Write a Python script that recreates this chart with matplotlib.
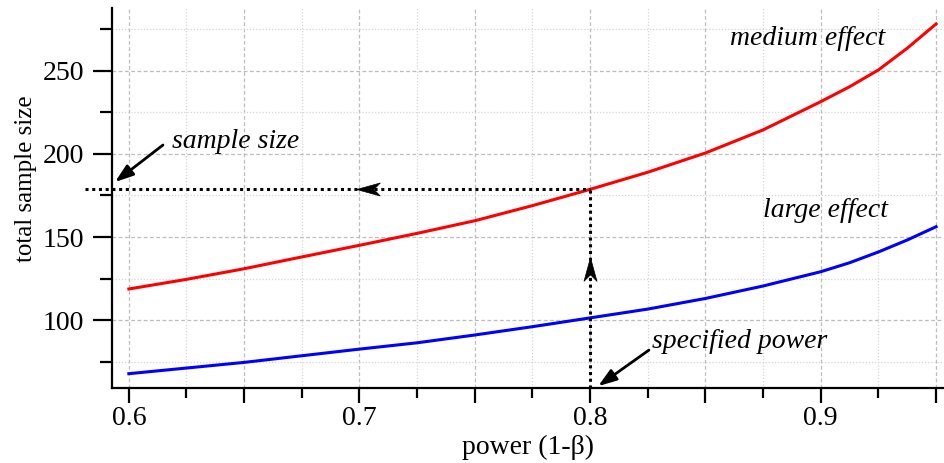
import matplotlib
matplotlib.use("Agg")
import matplotlib.pyplot as plt
from matplotlib.ticker import FixedLocator, FuncFormatter, MultipleLocator
from matplotlib.path import Path

power = [0.6, 0.625, 0.65, 0.675, 0.7, 0.725, 0.75, 0.775, 0.8, 0.825, 0.85, 0.875,
         0.9, 0.9125, 0.925, 0.9375, 0.95]
medium_effect = [118.7, 124.5, 130.9, 138.0, 145.0, 152.2, 159.8, 168.9, 178.7, 189.0, 200.6, 214.5,
                 231.5, 240.5, 250.6, 263.7, 278.3]
large_effect = [67.7, 71.1, 74.5, 78.5, 82.5, 86.3, 91.0, 96.0, 101.3, 106.6, 113.0, 120.5,
                129.1, 134.5, 141.0, 148.2, 156.2]
x_major = [0.6, 0.65, 0.7, 0.75, 0.8, 0.85, 0.9, 0.95]
x_labels = {0.6: "0.6", 0.7: "0.7", 0.8: "0.8", 0.9: "0.9"}
specified_power = 0.8
sample_size = 179

serif = ["Liberation Serif", "DejaVu Serif"]
plt.rcParams["font.family"] = serif

fig = plt.figure(figsize=(9.44, 4.63), dpi=100)
ax = fig.add_axes([112 / 944, 1 - 388.3 / 463, (943 - 112) / 944, (388.3 - 8) / 463])

ax.plot(power, medium_effect, color="#ff0000", lw=2.2, zorder=3)
ax.plot(power, large_effect, color="#0000ff", lw=2.2, zorder=3)

ymin, ymax = 58.9, 287.9
ax.set_xlim(0.5927, 0.9530)
ax.set_ylim(ymin, ymax)

for s in ["top", "right"]:
    ax.spines[s].set_visible(False)
for s in ["left", "bottom"]:
    ax.spines[s].set_linewidth(1.6)

ax.xaxis.set_major_locator(FixedLocator(x_major))
ax.xaxis.set_major_formatter(FuncFormatter(lambda v, p: x_labels.get(round(v, 3), "")))
ax.xaxis.set_minor_locator(FixedLocator([v + 0.025 for v in x_major[:-1]]))
ax.yaxis.set_major_locator(MultipleLocator(50))
ax.yaxis.set_minor_locator(MultipleLocator(25))

ax.tick_params(axis="both", which="major", direction="out", width=1.6, labelsize=20)
ax.tick_params(axis="x", which="major", length=11, pad=1.5)
ax.tick_params(axis="y", which="major", length=14, pad=6)
ax.tick_params(axis="x", which="minor", direction="out", length=7, width=1.6)
ax.tick_params(axis="y", which="minor", direction="out", length=9, width=1.6)

ax.grid(True, which="major", color="#bdbdbd", linestyle=(0, (3, 2)), lw=0.9)
ax.grid(True, which="minor", color="#d6d6d6", linestyle=(0, (1, 1.5)), lw=0.9)
ax.set_axisbelow(True)

ax.set_xlabel("power (1-β)", fontsize=20, labelpad=3)
ax.set_ylabel("total sample size", fontsize=18)
ax.yaxis.set_label_coords(-0.090, 0.5517)

# dotted guide lines
ax.plot([0.581, specified_power], [sample_size, sample_size], color="black", lw=2.2,
        linestyle=(0, (1, 1.2)), clip_on=False, zorder=4)
ax.plot([specified_power, specified_power], [ymin, sample_size], color="black", lw=2.2,
        linestyle=(0, (1, 1.2)), clip_on=False, zorder=4)

# stealth-shaped arrowheads on the guide lines
def stealth(direction):
    base = [(-1.0, 0.0), (1.0, 0.55), (0.45, 0.0), (1.0, -0.55), (-1.0, 0.0)]
    if direction == "up":
        base = [(-y, -x) for x, y in base]
    return Path(base, [Path.MOVETO, Path.LINETO, Path.LINETO, Path.LINETO, Path.CLOSEPOLY])

ax.plot([0.7039], [sample_size], marker=stealth("left"), markersize=17, color="black",
        markeredgewidth=0.5, linestyle="none", zorder=5)
ax.plot([specified_power], [130.7], marker=stealth("up"), markersize=17, color="black",
        markeredgewidth=0.5, linestyle="none", zorder=5)

# text annotations with arrows
aprops = dict(arrowstyle="-|>,head_length=1.1,head_width=0.38", color="black", lw=2,
              shrinkA=0, shrinkB=0)
ax.annotate("", xy=(0.594, 183.1), xytext=(0.6148, 205.4), arrowprops=aprops,
            annotation_clip=False)
ax.annotate("", xy=(0.8035, 60.2), xytext=(0.8255, 81.9), arrowprops=aprops,
            annotation_clip=False)

ax.text(0.6187, 203.6, "sample size", fontsize=20, style="italic", ha="left", va="baseline")
ax.text(0.8267, 82.9, "specified power", fontsize=20, style="italic", ha="left", va="baseline")
ax.text(0.9279, 265.7, "medium effect", fontsize=20, style="italic", ha="right", va="baseline")
ax.text(0.929, 162.2, "large effect", fontsize=20, style="italic", ha="right", va="baseline")

fig.savefig("out.png", dpi=100)
